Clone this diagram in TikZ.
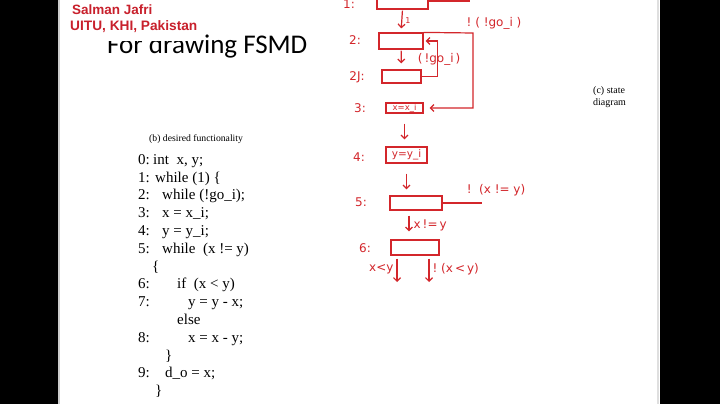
\documentclass[tikz,border=0pt]{standalone}
\usepackage{fontspec}
\setmainfont{Liberation Serif}
\newfontfamily\namefont{Liberation Sans}
\newfontfamily\titlefont{Carlito}
\newfontfamily\handfont{DejaVu Sans}
\usetikzlibrary{arrows.meta,positioning}
\definecolor{ink}{HTML}{D3262B}
\definecolor{banner}{HTML}{C8202C}
\begin{document}
\begin{tikzpicture}[x=1pt,y=-1pt,>={Straight Barb[length=3.5pt,width=7pt]},
  state/.style={draw=ink,line width=1.2pt,inner sep=0pt,text=ink,font=\handfont\fontsize{8.5}{9}\selectfont},
  hand/.style={text=ink,inner sep=0pt,font=\handfont\fontsize{12}{13}\selectfont},
  code/.style={anchor=base west,inner sep=0pt,font=\fontsize{15}{17}\selectfont},
  wire/.style={draw=ink,line width=1.2pt}]
\clip (0,0) rectangle (720,404);
\fill[white] (0,0) rectangle (720,404);
\fill[black] (0,0) rectangle (58,404);
\fill[black] (660,0) rectangle (720,404);
\draw[gray!40,line width=1.5pt] (59,0) -- (59,404);
\draw[gray!25,line width=1.5pt] (658,0) -- (658,404);
\node[anchor=base west,inner sep=0pt,font=\titlefont\fontsize{27}{32}\selectfont] (title) at (107,53.5) {For drawing FSMD};
\fill[white] (61,0) rectangle (200,41.5);
\node[anchor=base west,inner sep=0pt,text=banner,font=\namefont\bfseries\fontsize{13.5}{16}\selectfont] (author) at (72,15) {Salman Jafri};
\node[anchor=base west,inner sep=0pt,text=banner,font=\namefont\bfseries\fontsize{13.7}{16}\selectfont] (inst) at (70,31) {UITU, KHI, Pakistan};
\node[anchor=base west,inner sep=0pt,font=\fontsize{9.7}{11}\selectfont] (caption) at (149,141) {(b) desired functionality};
\node[anchor=north west,inner sep=0pt,align=left,font=\fontsize{10}{12}\selectfont] (sdcap) at (593,86) {(c) state\\diagram};
\node[code] (n0) at (138,164.3) {0:};
\node[code] (c0) at (153,164.3) {int\ \ x, y;};
\node[code] (n1) at (138,182.1) {1:};
\node[code] (c1) at (155,182.1) {while (1) \{};
\node[code] (n2) at (138,199.9) {2:};
\node[code] (c2) at (162,199.9) {while (!go\_i);};
\node[code] (n3) at (138,217.7) {3:};
\node[code] (c3) at (162,217.7) {x = x\_i;};
\node[code] (n4) at (138,235.5) {4:};
\node[code] (c4) at (162,235.5) {y = y\_i;};
\node[code] (n5) at (138,253.3) {5:};
\node[code] (c5) at (162,253.3) {while\ \ (x != y)};
\node[code] (o1) at (152,271.1) {\{};
\node[code] (n6) at (138,288.9) {6:};
\node[code] (c6) at (177,288.9) {if\ \ (x < y)};
\node[code] (n7) at (138,306.7) {7:};
\node[code] (c7) at (188,306.7) {y = y - x;};
\node[code] (e7) at (177,324.5) {else};
\node[code] (n8) at (138,342.3) {8:};
\node[code] (c8) at (188,342.3) {x = x - y;};
\node[code] (o2) at (165,360.1) {\}};
\node[code] (n9) at (138,377.9) {9:};
\node[code] (c9) at (165,377.9) {d\_o = x;};
\node[code] (o3) at (155,395.7) {\}};
\node[state,minimum width=51pt,minimum height=19pt] (s1) at (402.5,-0.5) {};
\node[state,minimum width=44pt,minimum height=16pt] (s2) at (401,41) {};
\node[state,minimum width=39pt,minimum height=13pt] (s2J) at (401.5,76.5) {};
\node[state,minimum width=37pt,minimum height=10pt] (s3) at (404.5,108) {x=x\_i};
\node[state,minimum width=41pt,minimum height=16pt,font=\handfont\fontsize{10.5}{11}\selectfont] (s4) at (406.5,155) {y=y\_i};
\node[state,minimum width=52pt,minimum height=14pt] (s5) at (416,203) {};
\node[state,minimum width=48pt,minimum height=15pt] (s6) at (415,247.5) {};
\node[hand] (l1) at (349,4) {1:};
\node[hand] (l2) at (355,40) {2:};
\node[hand] (l2J) at (357,77) {2J:};
\node[hand] (l3) at (360,108) {3:};
\node[hand] (l4) at (359,157) {4:};
\node[hand] (l5) at (361,202) {5:};
\node[hand] (l6) at (365,248) {6:};
\coordinate (t1) at (470,1);
\coordinate (r2) at (473,33);
\coordinate (r5) at (482,203);
\coordinate (d1) at (397,282);
\coordinate (d2) at (429,282);
\draw[wire] (s1.east |- t1) -- (t1);
\draw[wire,->,shorten <=1pt,shorten >=4pt] (s1.south) -- (s2.north) node[hand,midway,right=3pt,font=\handfont\fontsize{8}{9}\selectfont]{1};
\draw[wire,->,shorten >=6pt] (s2.north east) -- (r2) node[hand,above=3pt,xshift=21pt]{!\ (\ !go\_i\ )} |- (s3.east);
\draw[wire,->,shorten <=1pt,shorten >=6pt] (s2) -- (s2J) node[hand,midway,right=16pt]{(\,!go\_i\,)};
\draw[wire,->,shorten >=2pt] (s2J.east) -- ++(16,0) |- (s2.east);
\draw[wire,->,shorten <=10pt,shorten >=7pt] (s3.south) -- (s3.south |- s4.north);
\draw[wire,->,shorten <=10pt,shorten >=6pt] (s4.south) -- (s4.south |- s5.north);
\draw[wire] (s5.east) -- (r5) node[hand,above=6pt,xshift=14pt]{!\ \ (x\ !=\ y)};
\draw[wire,->,shorten <=5pt,shorten >=8pt] ([xshift=-7pt]s5.south) -- ([xshift=-7pt]s5.south |- s6.north) node[hand,midway,right=4pt]{x\,!=\,y};
\draw[wire,->,shorten <=3pt] (s6.south west -| d1) -- (d1) node[hand,midway,left=3pt]{x<y};
\draw[wire,->,shorten <=3pt] (s6.south west -| d2) -- (d2) node[hand,midway,right=3pt]{!\ (x\,<\,y)};
\end{tikzpicture}
\end{document}
